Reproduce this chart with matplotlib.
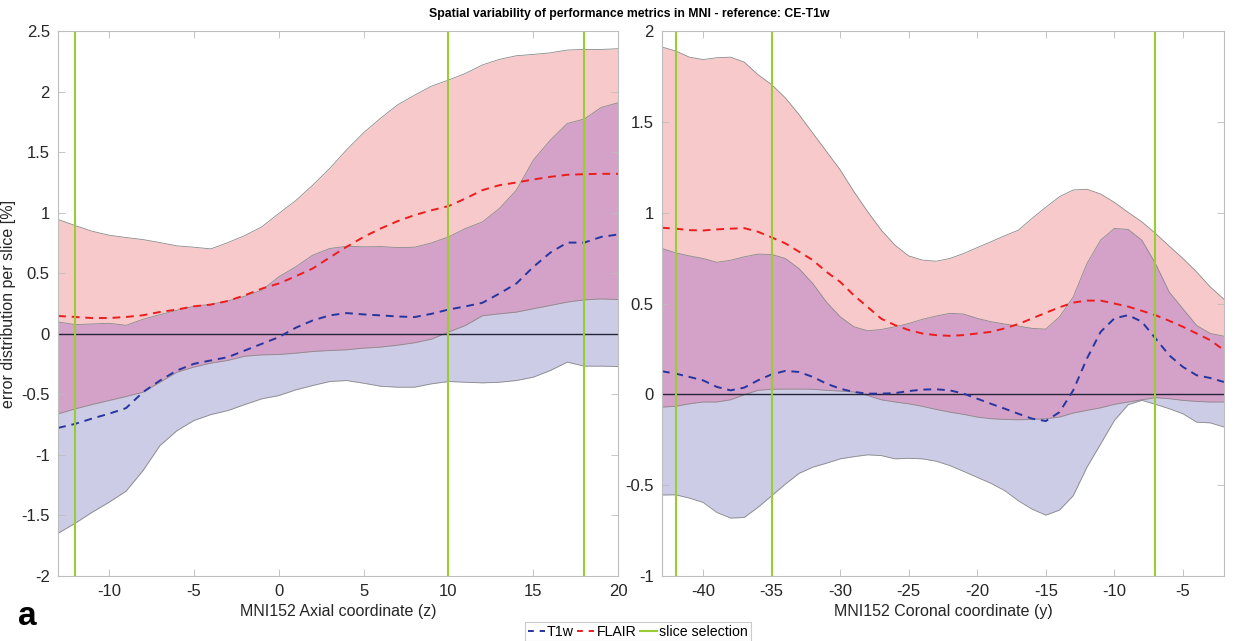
import numpy as np
import matplotlib
matplotlib.use("Agg")
import matplotlib.pyplot as plt
from matplotlib.lines import Line2D

plt.rcParams['font.family'] = ['Liberation Sans', 'DejaVu Sans']
plt.rcParams['axes.unicode_minus'] = False

# ---- axial panel (z) ----
z = np.arange(-13, 21)
ax_t1_mean = [-0.777, -0.744, -0.70, -0.66, -0.614, -0.482, -0.386, -0.303, -0.248, -0.22,
              -0.193, -0.138, -0.083, -0.028, 0.05, 0.11, 0.152, 0.171, 0.16, 0.152,
              0.143, 0.138, 0.165, 0.20, 0.226, 0.256, 0.332, 0.415, 0.552, 0.67,
              0.753, 0.753, 0.80, 0.82]
ax_t1_lo = [-1.647, -1.565, -1.474, -1.391, -1.30, -1.13, -0.923, -0.80, -0.716, -0.667,
            -0.634, -0.584, -0.537, -0.51, -0.463, -0.427, -0.394, -0.386, -0.408, -0.433,
            -0.441, -0.441, -0.413, -0.394, -0.40, -0.405, -0.40, -0.386, -0.358, -0.303,
            -0.234, -0.267, -0.267, -0.27]
ax_t1_hi = [0.098, 0.076, 0.081, 0.087, 0.07, 0.12, 0.158, 0.194, 0.227, 0.244,
            0.271, 0.31, 0.36, 0.47, 0.553, 0.649, 0.704, 0.723, 0.718, 0.72,
            0.712, 0.715, 0.75, 0.80, 0.869, 0.924, 1.034, 1.186, 1.434, 1.599,
            1.737, 1.773, 1.869, 1.908]
ax_fl_mean = [0.147, 0.139, 0.13, 0.13, 0.139, 0.153, 0.18, 0.2, 0.227, 0.241,
              0.271, 0.318, 0.373, 0.415, 0.475, 0.539, 0.63, 0.718, 0.80, 0.869,
              0.93, 0.98, 1.02, 1.054, 1.117, 1.186, 1.227, 1.249, 1.274, 1.296,
              1.313, 1.318, 1.321, 1.321]
ax_fl_lo = [-0.661, -0.62, -0.584, -0.551, -0.518, -0.482, -0.40, -0.317, -0.275, -0.242,
            -0.22, -0.185, -0.174, -0.171, -0.16, -0.146, -0.138, -0.132, -0.118, -0.11,
            -0.094, -0.074, -0.044, 0.014, 0.069, 0.149, 0.165, 0.179, 0.207, 0.234,
            0.262, 0.28, 0.288, 0.283]
ax_fl_hi = [0.944, 0.894, 0.847, 0.814, 0.795, 0.778, 0.753, 0.726, 0.715, 0.701,
            0.753, 0.811, 0.883, 0.993, 1.10, 1.227, 1.365, 1.52, 1.66, 1.78,
            1.89, 1.97, 2.045, 2.095, 2.15, 2.22, 2.266, 2.296, 2.307, 2.32,
            2.343, 2.348, 2.348, 2.354]
ax_slices = [-12, 10, 18]

# ---- coronal panel (y) ----
y = np.arange(-43, -1)
co_t1_mean = [0.127, 0.114, 0.096, 0.077, 0.041, 0.022, 0.037, 0.077, 0.11, 0.129,
              0.123, 0.096, 0.059, 0.031, 0.013, 0.004, 0.004, 0.007, 0.018, 0.026,
              0.028, 0.022, 0.004, -0.024, -0.052, -0.079, -0.107, -0.134, -0.147, -0.098,
              0.022, 0.197, 0.344, 0.418, 0.436, 0.40, 0.308, 0.215, 0.151, 0.105,
              0.09, 0.068]
co_t1_lo = [-0.554, -0.553, -0.571, -0.595, -0.65, -0.681, -0.678, -0.622, -0.558, -0.494,
            -0.435, -0.401, -0.379, -0.355, -0.343, -0.333, -0.337, -0.355, -0.352, -0.355,
            -0.368, -0.392, -0.424, -0.457, -0.49, -0.53, -0.586, -0.632, -0.665, -0.637,
            -0.558, -0.401, -0.273, -0.144, -0.057, -0.033, -0.055, -0.079, -0.107, -0.153,
            -0.157, -0.18]
co_t1_hi = [0.803, 0.779, 0.762, 0.748, 0.727, 0.738, 0.757, 0.772, 0.77, 0.748,
            0.692, 0.61, 0.508, 0.427, 0.372, 0.35, 0.357, 0.372, 0.39, 0.413,
            0.431, 0.446, 0.442, 0.418, 0.40, 0.387, 0.376, 0.363, 0.359, 0.427,
            0.536, 0.72, 0.849, 0.913, 0.908, 0.849, 0.72, 0.563, 0.471, 0.379,
            0.335, 0.32]
co_fl_mean = [0.917, 0.912, 0.904, 0.902, 0.908, 0.912, 0.915, 0.895, 0.864, 0.831,
              0.785, 0.739, 0.674, 0.619, 0.545, 0.481, 0.416, 0.381, 0.354, 0.335,
              0.326, 0.322, 0.326, 0.335, 0.344, 0.363, 0.387, 0.418, 0.449, 0.479,
              0.505, 0.516, 0.516, 0.50, 0.483, 0.46, 0.436, 0.405, 0.372, 0.335,
              0.298, 0.243]
co_fl_lo = [-0.07, -0.066, -0.052, -0.042, -0.042, -0.03, -0.002, 0.022, 0.028, 0.029,
            0.029, 0.028, 0.022, 0.018, 0.013, -0.006, -0.03, -0.042, -0.052, -0.066,
            -0.083, -0.098, -0.11, -0.125, -0.134, -0.138, -0.14, -0.138, -0.134, -0.125,
            -0.103, -0.088, -0.074, -0.055, -0.042, -0.03, -0.018, -0.024, -0.033, -0.039,
            -0.042, -0.042]
co_fl_hi = [1.912, 1.89, 1.856, 1.843, 1.853, 1.856, 1.829, 1.76, 1.705, 1.632,
            1.54, 1.438, 1.337, 1.236, 1.116, 1.006, 0.904, 0.821, 0.762, 0.739,
            0.733, 0.748, 0.775, 0.808, 0.84, 0.873, 0.904, 0.969, 1.03, 1.088,
            1.125, 1.129, 1.103, 1.057, 1.002, 0.95, 0.886, 0.816, 0.748, 0.674,
            0.591, 0.523]
co_slices = [-42, -35, -7]

PINK = '#f7c9cb'
LAV = '#cccce6'
PURP = '#d4a1c8'
EDGE = '#8a8a8a'
BLUE = '#2536a0'
RED = '#ee1c1c'
GREEN = '#9acd32'


def panel(ax, x, t1m, t1lo, t1hi, flm, fllo, flhi, slices):
    t1lo, t1hi = np.array(t1lo), np.array(t1hi)
    fllo, flhi = np.array(fllo), np.array(flhi)
    ax.fill_between(x, fllo, flhi, color=PINK, lw=0)
    ax.fill_between(x, t1lo, t1hi, color=LAV, lw=0)
    olo = np.maximum(t1lo, fllo)
    ohi = np.minimum(t1hi, flhi)
    ax.fill_between(x, olo, ohi, where=ohi > olo, interpolate=True, color=PURP, lw=0)
    for b in (t1lo, t1hi, fllo, flhi):
        ax.plot(x, b, color=EDGE, lw=0.6)
    ax.axhline(0, color='#25253a', lw=1.0)
    ax.plot(x, t1m, '--', color=BLUE, lw=1.4, dashes=(4, 3))
    ax.plot(x, flm, '--', color=RED, lw=1.4, dashes=(4, 3))
    for s in slices:
        ax.axvline(s, color=GREEN, lw=1.5)
    ax.set_xlim(x[0], x[-1])
    for sp in ax.spines.values():
        sp.set_color('#bdbdbd')
    ax.tick_params(direction='in', top=True, right=True, length=5, width=0.6,
                   color='#bdbdbd', labelsize=12, labelcolor='#262626', pad=6)


fig = plt.figure(figsize=(12.58, 6.41), dpi=100)
ax1 = fig.add_axes([0.0462, 0.1014, 0.4452, 0.8502])
ax2 = fig.add_axes([0.5262, 0.1014, 0.4468, 0.8502])

panel(ax1, z, ax_t1_mean, ax_t1_lo, ax_t1_hi, ax_fl_mean, ax_fl_lo, ax_fl_hi, ax_slices)
ax1.set_ylim(-2, 2.5)
ax1.set_yticks(np.arange(-2, 2.51, 0.5))
ax1.set_yticklabels(['-2', '-1.5', '-1', '-0.5', '0', '0.5', '1', '1.5', '2', '2.5'])
ax1.set_xticks([-10, -5, 0, 5, 10, 15, 20])
ax1.set_xlabel('MNI152 Axial coordinate (z)', fontsize=11.5, color='#262626', labelpad=3)
ax1.set_ylabel('error distribution per slice [%]', fontsize=11.5, color='#262626', labelpad=4)

panel(ax2, y, co_t1_mean, co_t1_lo, co_t1_hi, co_fl_mean, co_fl_lo, co_fl_hi, co_slices)
ax2.set_ylim(-1, 2)
ax2.set_yticks(np.arange(-1, 2.01, 0.5))
ax2.set_yticklabels(['-1', '-0.5', '0', '0.5', '1', '1.5', '2'])
ax2.set_xticks([-40, -35, -30, -25, -20, -15, -10, -5])
ax2.set_xlabel('MNI152 Coronal coordinate (y)', fontsize=11.5, color='#262626', labelpad=3)

fig.suptitle('Spatial variability of performance metrics in MNI - reference: CE-T1w',
             fontsize=8.8, fontweight='bold', y=0.988)
fig.text(0.014, 0.025, 'a', fontsize=24, fontweight='bold')

handles = [Line2D([], [], color=BLUE, ls='--', lw=1.4, dashes=(3, 3)),
           Line2D([], [], color=RED, ls='--', lw=1.4, dashes=(3, 3)),
           Line2D([], [], color=GREEN, lw=1.5)]
leg = fig.legend(handles, ['T1w', 'FLAIR', 'slice selection'], loc='lower center',
                 bbox_to_anchor=(0.507, -0.005), ncol=3, fontsize=10.2, frameon=True,
                 fancybox=False, handlelength=1.2, handletextpad=0.15, columnspacing=0.25,
                 borderpad=0.2, borderaxespad=0.2)
leg.get_frame().set_edgecolor('#bdbdbd')
leg.get_frame().set_linewidth(0.8)

fig.savefig('out.png', dpi=100)
